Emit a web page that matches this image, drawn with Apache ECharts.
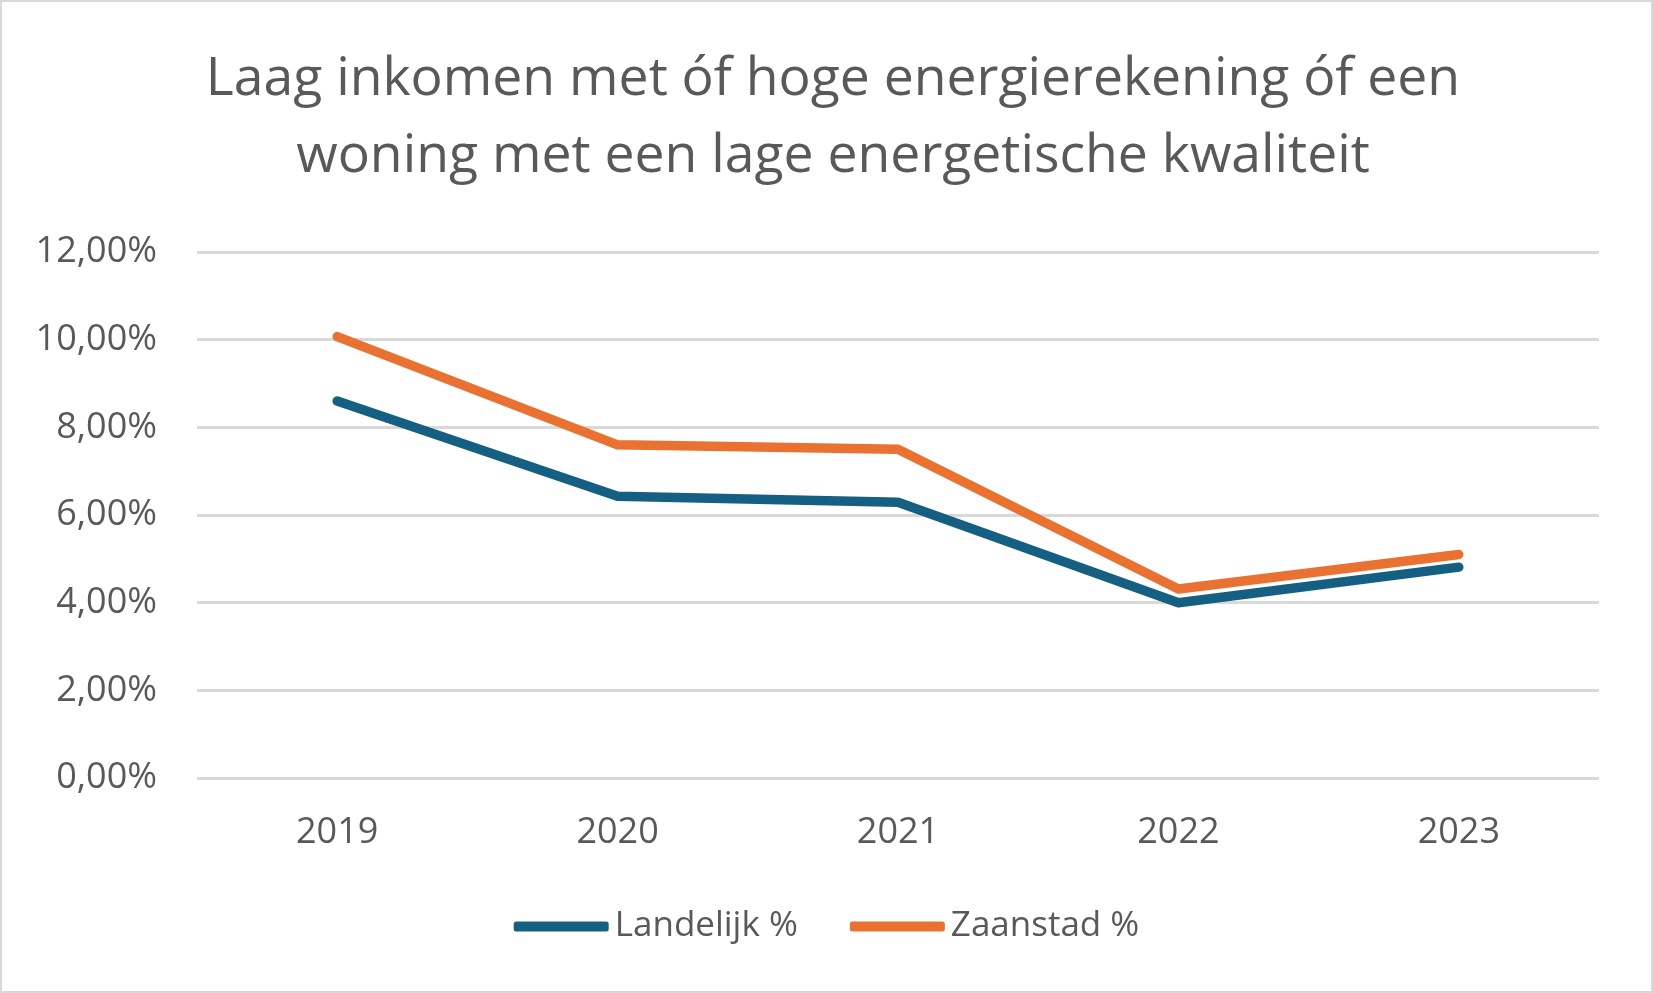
<!DOCTYPE html>
<html>
<head>
<meta charset="utf-8">
<script src="https://cdn.jsdelivr.net/npm/echarts@6/dist/echarts.min.js"></script>
<style>
  html, body { margin: 0; padding: 0; background: #fff; }
  #chart { width: 1653px; height: 993px; box-sizing: border-box; border: 2px solid #D9D9D9; }
</style>
</head>
<body>
<div id="chart"></div>
<script>
const titleText = "Laag inkomen met óf hoge energierekening óf een\nwoning met een lage energetische kwaliteit";
const categories = ["2019", "2020", "2021", "2022", "2023"];
const landelijk = [8.60, 6.43, 6.29, 4.00, 4.81];
const zaanstad = [10.07, 7.60, 7.50, 4.31, 5.10];
const seriesNames = ["Landelijk %", "Zaanstad %"];
const yTicks = { min: 0, max: 12, interval: 2 };

const FONT = "Open Sans";
const chart = echarts.init(document.getElementById('chart'), null, { renderer: 'canvas' });
chart.setOption({
  backgroundColor: '#ffffff',
  animation: false,
  title: {
    text: titleText,
    left: 826,
    top: 34,
    textAlign: 'center',
    textStyle: { fontFamily: FONT, fontSize: 53.5, fontWeight: 'normal', color: '#595959', lineHeight: 77 }
  },
  legend: {
    data: seriesNames,
    top: 902,
    left: 'center',
    icon: 'roundRect',
    itemWidth: 95,
    itemHeight: 10,
    itemGap: 52,
    textStyle: { fontFamily: FONT, fontSize: 35, color: '#595959', padding: [0, 0, 0, 1] }
  },
  grid: { left: 195, right: 52, top: 250, bottom: 213, containLabel: false },
  xAxis: {
    type: 'category',
    data: categories,
    boundaryGap: true,
    axisLine: { show: false },
    axisTick: { show: false },
    axisLabel: { fontFamily: FONT, fontSize: 36, color: '#595959', margin: 37 }
  },
  yAxis: {
    type: 'value',
    min: yTicks.min, max: yTicks.max, interval: yTicks.interval,
    axisLine: { show: false },
    axisTick: { show: false },
    splitLine: { lineStyle: { color: '#D9D9D9', width: 3 } },
    axisLabel: {
      fontFamily: FONT, fontSize: 36, color: '#595959', margin: 40,
      formatter: v => v.toFixed(2).replace('.', ',') + '%'
    }
  },
  series: [
    { name: seriesNames[0], type: 'line', data: landelijk, symbol: 'none', smooth: false,
      lineStyle: { color: '#156082', width: 9.5, cap: 'round', join: 'round' }, itemStyle: { color: '#156082' } },
    { name: seriesNames[1], type: 'line', data: zaanstad, symbol: 'none', smooth: false,
      lineStyle: { color: '#E97132', width: 9.5, cap: 'round', join: 'round' }, itemStyle: { color: '#E97132' } }
  ]
});
</script>
</body>
</html>
